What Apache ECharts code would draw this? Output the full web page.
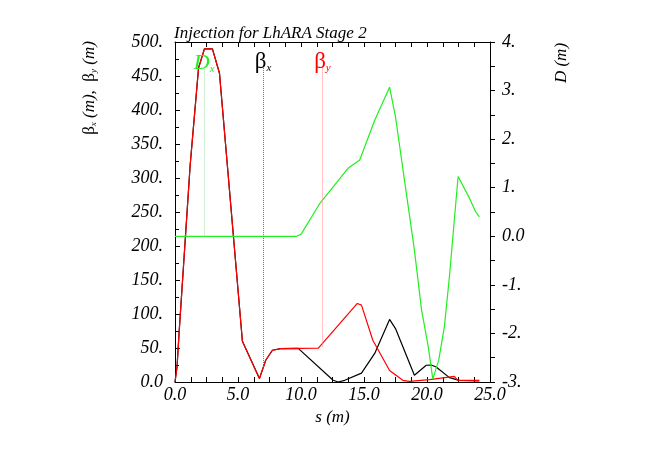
<!DOCTYPE html>
<html>
<head>
<meta charset="utf-8">
<script src="https://cdn.jsdelivr.net/npm/echarts@6/dist/echarts.min.js"></script>
<style>
  html, body { margin: 0; padding: 0; background: #fff; }
  #chart { width: 664px; height: 470px; }
</style>
</head>
<body>
<div id="chart"></div>
<script>
// beta_x (black)
const sBetaX = [0, 0.16, 0.32, 1.2, 1.87, 2.34, 2.97, 3.53, 5.35, 6.7, 7.2, 7.73, 8.4, 9.78,
  12.55, 12.95, 13.47, 14.8, 15.85, 17.03, 17.5, 19.0, 19.94, 20.33, 20.73, 21.78, 22.57, 24.15]
const betaX = [0, 22, 71, 318, 462, 490, 490, 454, 60, 5, 32, 46.7, 49, 49.5,
  2.5, 0, 2.5, 13, 42, 92, 78.6, 10, 24.6, 25, 22, 6.4, 2.5, 1.5]

// beta_y (red)
const sBetaY = [0, 0.16, 0.32, 1.2, 1.87, 2.34, 2.97, 3.53, 5.35, 6.7, 7.2, 7.73, 8.4, 9.78,
  11.36, 14.47, 14.8, 15.7, 17.03, 18.08, 18.6, 20.2, 22.17, 22.43, 24.15]
const betaY = [0, 22, 71, 318, 462, 490, 490, 454, 60, 5, 32, 46.7, 49, 49.5,
  49.6, 115.5, 113, 61.4, 17, 2.5, 1, 3.5, 8.4, 2.5, 2.5]

// dispersion D_x (green, right axis)
const sDisp = [0, 9.65, 10.0, 11.5, 13.73, 14.66, 15.85, 17.03, 17.5, 19.0, 19.57, 20.1,
  20.46, 20.93, 21.38, 21.78, 22.17, 22.47, 23.38, 23.85, 24.15]
const dispX = [0, 0, 0.04, 0.68, 1.40, 1.57, 2.39, 3.07, 2.46, -0.28, -1.52, -2.27,
  -2.94, -2.55, -1.86, -0.83, 0.34, 1.23, 0.78, 0.51, 0.40]

// curve labels: s position, leader line start (on curve) and end
const labelS = [2.32, 6.99, 11.7]
const labelFrom = [0, 22, 52]
const labelTo = [3.46, 462, 462]

const serif = 'Liberation Serif'
const pairs = (s, v) => s.map((x, i) => [x, v[i]])

const leader = (i, color, text, rich) => ({
  silent: true,
  symbol: ['none', 'none'],
  animation: false,
  lineStyle: { type: 'dotted', color: color, width: 1 },
  label: {
    show: true,
    position: 'end',
    distance: 1,
    offset: [0, 7],
    formatter: text,
    rich: rich
  },
  data: [[{ coord: [labelS[i], labelFrom[i]] }, { coord: [labelS[i], labelTo[i]] }]]
})

const chart = echarts.init(document.getElementById('chart'))

const option = {
  animation: false,
  title: {
    text: 'Injection for LhARA Stage 2',
    left: 169,
    top: 20,
    textStyle: { fontFamily: serif, fontStyle: 'italic', fontWeight: 'normal', fontSize: 17, color: '#000' }
  },
  grid: { left: 175, right: 174, top: 42, bottom: 88 },
  xAxis: [
    {
      type: 'value',
      position: 'bottom',
      min: 0,
      max: 25,
      interval: 5,
      axisLine: { onZero: false, lineStyle: { color: '#000', width: 1 } },
      axisTick: { inside: true, length: 5, lineStyle: { color: '#000' } },
      minorTick: { show: true, splitNumber: 4, length: 5, lineStyle: { color: '#000' } },
      splitLine: { show: false },
      axisLabel: {
        formatter: v => v.toFixed(1),
        fontFamily: serif, fontStyle: 'italic', fontSize: 18, color: '#000', margin: 4
      },
      name: 's (m)',
      nameLocation: 'middle',
      nameGap: 27,
      nameTextStyle: { fontFamily: serif, fontStyle: 'italic', fontSize: 17, color: '#000' }
    },
    {
      type: 'value',
      position: 'top',
      min: 0,
      max: 25,
      interval: 5,
      axisLine: { onZero: false, lineStyle: { color: '#000', width: 1 } },
      axisTick: { inside: true, length: 5, lineStyle: { color: '#000' } },
      minorTick: { show: true, splitNumber: 4, length: 5, lineStyle: { color: '#000' } },
      splitLine: { show: false },
      axisLabel: { show: false }
    }
  ],
  yAxis: [
    {
      type: 'value',
      position: 'left',
      min: 0,
      max: 500,
      interval: 50,
      axisLine: { show: true, onZero: false, lineStyle: { color: '#000', width: 1 } },
      axisTick: { show: true, inside: true, length: 5, lineStyle: { color: '#000' } },
      minorTick: { show: true, splitNumber: 2, length: 4, lineStyle: { color: '#000' } },
      splitLine: { show: false },
      axisLabel: {
        formatter: v => v === 0 ? '0.0' : v + '.',
        fontFamily: serif, fontStyle: 'italic', fontSize: 18, color: '#000', margin: 12
      }
    },
    {
      type: 'value',
      position: 'right',
      min: -3,
      max: 4,
      interval: 1,
      axisLine: { show: true, onZero: false, lineStyle: { color: '#000', width: 1 } },
      axisTick: { show: true, inside: false, length: 5, lineStyle: { color: '#000' } },
      minorTick: { show: true, splitNumber: 2, length: 5, lineStyle: { color: '#000' } },
      splitLine: { show: false },
      axisLabel: {
        formatter: v => v === 0 ? '0.0' : v + '.',
        fontFamily: serif, fontStyle: 'italic', fontSize: 18, color: '#000', margin: 12
      }
    }
  ],
  graphic: [
    {
      type: 'text',
      x: 90,
      y: 88,
      rotation: Math.PI / 2,
      style: {
        text: '{b|β}{s|x}{i| (m),  }{b|β}{s|y}{i| (m)}',
        align: 'center',
        verticalAlign: 'middle',
        rich: {
          b: { fontFamily: serif, fontSize: 17, color: '#000', verticalAlign: 'bottom' },
          s: { fontFamily: serif, fontStyle: 'italic', fontSize: 9, color: '#000', verticalAlign: 'bottom' },
          i: { fontFamily: serif, fontStyle: 'italic', fontSize: 17, color: '#000', verticalAlign: 'bottom' }
        }
      }
    },
    {
      type: 'text',
      x: 562,
      y: 63,
      rotation: Math.PI / 2,
      style: {
        text: 'D (m)',
        align: 'center',
        verticalAlign: 'middle',
        fontFamily: serif, fontStyle: 'italic', fontSize: 17, fill: '#000'
      }
    }
  ],
  series: [
    {
      name: 'betax',
      type: 'line',
      xAxisIndex: 0,
      yAxisIndex: 0,
      data: pairs(sBetaX, betaX),
      showSymbol: false,
      lineStyle: { color: '#000', width: 1.2 },
      markLine: leader(1, '#777', '{b|β}{s|x}', {
        b: { fontFamily: serif, fontSize: 23, color: '#000', verticalAlign: 'bottom' },
        s: { fontFamily: serif, fontStyle: 'italic', fontSize: 11, color: '#000', verticalAlign: 'bottom' }
      })
    },
    {
      name: 'betay',
      type: 'line',
      xAxisIndex: 0,
      yAxisIndex: 0,
      data: pairs(sBetaY, betaY),
      showSymbol: false,
      lineStyle: { color: '#ff0000', width: 1.2 },
      markLine: leader(2, '#ff9090', '{b|β}{s|y}', {
        b: { fontFamily: serif, fontSize: 23, color: '#ff0000', verticalAlign: 'bottom' },
        s: { fontFamily: serif, fontStyle: 'italic', fontSize: 11, color: '#ff0000', verticalAlign: 'bottom' }
      })
    },
    {
      name: 'Dx',
      type: 'line',
      xAxisIndex: 0,
      yAxisIndex: 1,
      data: pairs(sDisp, dispX),
      showSymbol: false,
      lineStyle: { color: '#22ee22', width: 1.2 },
      markLine: leader(0, '#90f090', '{b|D}{s|x}', {
        b: { fontFamily: serif, fontStyle: 'italic', fontSize: 22, color: '#22ee22', verticalAlign: 'bottom' },
        s: { fontFamily: serif, fontStyle: 'italic', fontSize: 11, color: '#22ee22', verticalAlign: 'bottom' }
      })
    }
  ]
}

chart.setOption(option)
</script>
</body>
</html>
